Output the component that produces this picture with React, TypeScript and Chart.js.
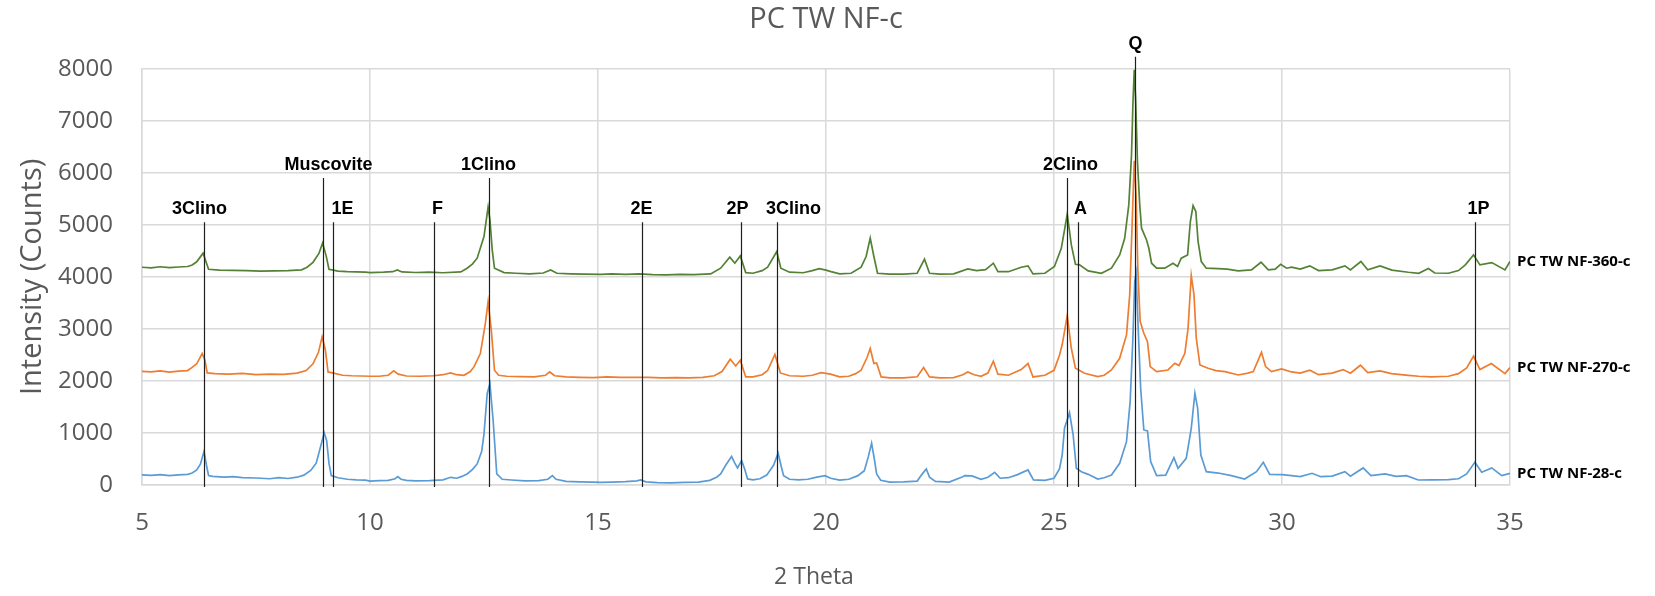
import { useEffect, useRef } from 'react';
import { Chart, registerables } from 'chart.js';

Chart.register(...registerables);

type Pt = [number, number];

const CHART_TITLE = 'PC TW NF-c';
const X_TITLE = '2 Theta';
const Y_TITLE = 'Intensity (Counts)';

const X_MIN = 5;
const X_MAX = 35;
const X_STEP = 5;
const Y_MIN = 0;
const Y_MAX = 8000;
const Y_STEP = 1000;

const SERIES_NAMES = ['PC TW NF-28-c', 'PC TW NF-270-c', 'PC TW NF-360-c'];
const SERIES_COLORS = ['#5B9BD5', '#ED7D31', '#548235'];

// 2-theta (deg) / counts
const SCAN_28: Pt[] = [
  [5.0, 193], [5.2, 185], [5.4, 200], [5.6, 180], [5.8, 195], [6.0, 205], [6.1, 230], [6.2, 290],
  [6.28, 400], [6.36, 643], [6.42, 350], [6.46, 180], [6.55, 165], [6.8, 150], [7.0, 160], [7.2, 140],
  [7.5, 135], [7.8, 120], [8.0, 140], [8.2, 125], [8.4, 150], [8.55, 190], [8.7, 280], [8.82, 420],
  [8.92, 750], [8.995, 1003], [9.05, 850], [9.1, 420], [9.15, 180], [9.3, 140], [9.5, 110], [9.7, 100],
  [9.9, 95], [10.0, 75], [10.2, 85], [10.4, 90], [10.55, 120], [10.61, 161], [10.68, 110], [10.8, 90],
  [11.0, 80], [11.3, 85], [11.6, 100], [11.77, 148], [11.9, 130], [12.0, 160], [12.13, 212], [12.25, 300],
  [12.35, 405], [12.45, 650], [12.5, 984], [12.57, 1755], [12.63, 1948], [12.7, 1241], [12.78, 212], [12.9, 110],
  [13.1, 96], [13.4, 80], [13.7, 85], [13.9, 110], [14.0, 180], [14.08, 110], [14.3, 70], [14.6, 60],
  [14.9, 55], [15.06, 51], [15.3, 55], [15.6, 65], [15.85, 80], [15.94, 96], [16.05, 60], [16.3, 45],
  [16.6, 40], [16.9, 50], [17.2, 55], [17.45, 90], [17.6, 150], [17.69, 212], [17.8, 380], [17.93, 547],
  [18.0, 420], [18.06, 328], [18.15, 469], [18.22, 300], [18.28, 116], [18.4, 100], [18.55, 120], [18.7, 190],
  [18.85, 380], [18.95, 611], [19.02, 350], [19.07, 180], [19.2, 110], [19.4, 100], [19.6, 110], [19.8, 150],
  [19.98, 180], [20.1, 130], [20.3, 95], [20.5, 110], [20.7, 180], [20.84, 276], [20.93, 550], [21.0, 804],
  [21.06, 500], [21.11, 212], [21.2, 90], [21.4, 55], [21.7, 60], [22.0, 75], [22.1, 200], [22.2, 309],
  [22.27, 150], [22.4, 70], [22.7, 55], [23.0, 160], [23.04, 180], [23.2, 175], [23.4, 110], [23.55, 150],
  [23.7, 244], [23.82, 130], [24.0, 140], [24.2, 200], [24.43, 289], [24.55, 100], [24.8, 90], [25.0, 130],
  [25.12, 309], [25.18, 577], [25.23, 1090], [25.34, 1391], [25.42, 962], [25.49, 321], [25.6, 256], [25.75, 205],
  [25.96, 115], [26.1, 140], [26.26, 192], [26.44, 417], [26.59, 833], [26.67, 1603], [26.73, 2820], [26.77, 3910],
  [26.8, 4070], [26.84, 3141], [26.9, 1859], [26.97, 1058], [27.05, 1038], [27.12, 449], [27.25, 179], [27.45, 190],
  [27.63, 526], [27.72, 321], [27.9, 513], [28.01, 1090], [28.09, 1763], [28.15, 1474], [28.22, 577], [28.34, 256],
  [28.6, 230], [28.89, 179], [29.18, 115], [29.44, 256], [29.59, 436], [29.73, 205], [30.0, 200], [30.21, 180],
  [30.4, 160], [30.66, 225], [30.85, 160], [31.1, 170], [31.38, 257], [31.5, 170], [31.78, 328], [31.95, 180],
  [32.26, 212], [32.5, 165], [32.73, 180], [32.99, 96], [33.3, 100], [33.65, 105], [33.87, 120], [34.05, 212],
  [34.23, 437], [34.38, 244], [34.6, 328], [34.82, 180], [35.0, 225],
];

const SCAN_270: Pt[] = [
  [5.0, 2186], [5.2, 2175], [5.4, 2195], [5.6, 2170], [5.8, 2190], [6.0, 2200], [6.1, 2260], [6.2, 2330],
  [6.32, 2527], [6.38, 2400], [6.43, 2154], [6.6, 2140], [6.9, 2130], [7.2, 2145], [7.5, 2120], [7.8, 2130],
  [8.1, 2125], [8.4, 2150], [8.6, 2200], [8.75, 2330], [8.87, 2550], [8.95, 2848], [9.02, 2600], [9.08, 2173],
  [9.2, 2150], [9.4, 2110], [9.6, 2100], [9.8, 2095], [10.0, 2090], [10.2, 2090], [10.4, 2110], [10.52, 2193],
  [10.62, 2130], [10.8, 2095], [11.1, 2090], [11.4, 2100], [11.6, 2120], [11.77, 2154], [11.9, 2120], [12.06, 2109],
  [12.2, 2180], [12.28, 2270], [12.42, 2527], [12.53, 3106], [12.59, 3524], [12.66, 2977], [12.73, 2205], [12.82, 2109],
  [13.0, 2090], [13.3, 2085], [13.6, 2080], [13.85, 2110], [13.94, 2173], [14.05, 2100], [14.3, 2080], [14.6, 2070],
  [14.9, 2064], [15.2, 2077], [15.5, 2070], [15.8, 2068], [16.1, 2070], [16.4, 2060], [16.7, 2065], [17.0, 2060],
  [17.3, 2070], [17.55, 2100], [17.72, 2180], [17.9, 2418], [18.02, 2289], [18.12, 2398], [18.24, 2077], [18.4, 2080],
  [18.6, 2120], [18.72, 2200], [18.88, 2508], [19.0, 2154], [19.2, 2100], [19.5, 2090], [19.7, 2110], [19.89, 2160],
  [20.1, 2130], [20.3, 2080], [20.5, 2090], [20.65, 2140], [20.77, 2205], [20.9, 2450], [20.97, 2623], [21.05, 2334],
  [21.11, 2347], [21.21, 2077], [21.4, 2060], [21.7, 2060], [22.0, 2080], [22.14, 2257], [22.27, 2077], [22.5, 2060],
  [22.8, 2065], [23.0, 2120], [23.11, 2173], [23.25, 2120], [23.4, 2090], [23.55, 2150], [23.67, 2379], [23.77, 2130],
  [24.0, 2110], [24.28, 2218], [24.43, 2334], [24.54, 2077], [24.8, 2110], [25.0, 2205], [25.12, 2495], [25.18, 2700],
  [25.23, 2950], [25.29, 3256], [25.38, 2628], [25.47, 2244], [25.67, 2147], [25.96, 2083], [26.1, 2110], [26.26, 2211],
  [26.44, 2436], [26.59, 2885], [26.66, 3654], [26.71, 4936], [26.76, 6231], [26.8, 5577], [26.84, 4102], [26.89, 3141],
  [26.97, 2917], [27.05, 2756], [27.11, 2276], [27.25, 2179], [27.5, 2211], [27.65, 2340], [27.74, 2295], [27.87, 2532],
  [27.94, 3013], [28.01, 4026], [28.07, 3654], [28.12, 2820], [28.2, 2308], [28.38, 2244], [28.55, 2200], [28.75, 2179],
  [29.04, 2115], [29.25, 2150], [29.37, 2179], [29.48, 2404], [29.55, 2551], [29.64, 2276], [29.77, 2179], [29.99, 2231],
  [30.21, 2173], [30.4, 2150], [30.61, 2205], [30.8, 2120], [31.1, 2150], [31.34, 2218], [31.5, 2150], [31.72, 2302],
  [31.88, 2160], [32.15, 2193], [32.4, 2140], [32.77, 2109], [33.0, 2090], [33.28, 2077], [33.65, 2090], [33.87, 2141],
  [34.05, 2250], [34.2, 2476], [34.34, 2218], [34.59, 2334], [34.89, 2141], [35.0, 2257],
];

const SCAN_360: Pt[] = [
  [5.0, 4186], [5.2, 4175], [5.4, 4195], [5.6, 4180], [5.8, 4190], [6.0, 4200], [6.1, 4230], [6.2, 4290],
  [6.34, 4456], [6.4, 4300], [6.46, 4147], [6.7, 4130], [7.0, 4125], [7.3, 4120], [7.6, 4110], [7.9, 4115],
  [8.2, 4120], [8.5, 4135], [8.62, 4186], [8.75, 4280], [8.88, 4450], [8.96, 4649], [9.04, 4400], [9.1, 4147],
  [9.3, 4110], [9.5, 4100], [9.7, 4095], [9.9, 4090], [10.0, 4083], [10.3, 4090], [10.5, 4100], [10.6, 4135],
  [10.7, 4095], [11.0, 4085], [11.3, 4090], [11.6, 4080], [11.99, 4095], [12.13, 4167], [12.25, 4250], [12.35, 4360],
  [12.5, 4777], [12.59, 5343], [12.63, 5100], [12.68, 4520], [12.73, 4167], [12.94, 4083], [13.2, 4070], [13.5, 4060],
  [13.8, 4075], [13.96, 4135], [14.1, 4070], [14.4, 4060], [14.7, 4055], [15.06, 4050], [15.3, 4057], [15.6, 4050],
  [15.9, 4060], [16.2, 4045], [16.5, 4040], [16.8, 4050], [17.1, 4045], [17.47, 4057], [17.69, 4167], [17.89, 4379],
  [18.0, 4263], [18.12, 4404], [18.24, 4083], [18.4, 4070], [18.6, 4120], [18.72, 4186], [18.92, 4488], [19.01, 4167],
  [19.2, 4090], [19.5, 4080], [19.7, 4120], [19.85, 4160], [20.0, 4130], [20.11, 4102], [20.3, 4060], [20.55, 4070],
  [20.77, 4186], [20.88, 4392], [20.97, 4745], [21.05, 4392], [21.13, 4070], [21.4, 4055], [21.7, 4055], [22.0, 4070],
  [22.16, 4340], [22.27, 4070], [22.5, 4055], [22.8, 4060], [23.11, 4154], [23.3, 4120], [23.5, 4140], [23.67, 4263],
  [23.77, 4102], [24.0, 4100], [24.28, 4186], [24.43, 4212], [24.54, 4057], [24.8, 4070], [25.01, 4199], [25.16, 4550],
  [25.23, 4900], [25.29, 5205], [25.38, 4615], [25.47, 4243], [25.56, 4231], [25.75, 4115], [26.04, 4070], [26.26, 4167],
  [26.44, 4423], [26.55, 4743], [26.64, 5384], [26.7, 6346], [26.73, 7307], [26.76, 7980], [26.79, 7436], [26.83, 6218],
  [26.88, 5384], [26.92, 4936], [27.03, 4711], [27.08, 4551], [27.14, 4263], [27.25, 4167], [27.43, 4167], [27.61, 4263],
  [27.71, 4199], [27.79, 4359], [27.93, 4423], [27.99, 5064], [28.05, 5372], [28.11, 5256], [28.16, 4679], [28.23, 4295],
  [28.34, 4167], [28.6, 4160], [28.8, 4150], [29.04, 4115], [29.33, 4135], [29.54, 4282], [29.7, 4135], [29.85, 4150],
  [29.97, 4243], [30.1, 4167], [30.21, 4186], [30.4, 4150], [30.61, 4212], [30.8, 4122], [31.1, 4135], [31.38, 4212],
  [31.5, 4135], [31.73, 4295], [31.88, 4135], [32.15, 4212], [32.41, 4130], [32.77, 4089], [33.0, 4070], [33.21, 4160],
  [33.35, 4075], [33.65, 4070], [33.87, 4122], [34.02, 4231], [34.2, 4424], [34.34, 4231], [34.6, 4276], [34.89, 4135],
  [35.0, 4295],
];

// Phase reference lines: label, 2-theta position, top of the line (counts)
const PHASE_LABELS = ['3Clino', 'Muscovite', '1E', 'F', '1Clino', '2E', '2P', '3Clino', '2Clino', 'A', 'Q', '1P'];
const PHASE_THETA = [6.36, 8.97, 9.18, 11.4, 12.61, 15.96, 18.13, 18.93, 25.29, 25.53, 26.77, 34.23];
const PHASE_TOP = [5050, 5900, 5050, 5050, 5900, 5050, 5050, 5050, 5900, 5050, 8230, 5050];

// horizontal nudge of each phase label relative to its line, in px
const LABEL_NUDGE = [-5, 5, 9, 3, -1, -1, -4, 16, 3, 2, 0, 3];

const AXIS_GREY = '#595959';
const GRID_GREY = '#D9D9D9';

const phaseLines = {
  id: 'phaseLines',
  afterDatasetsDraw(chart: any) {
    const { ctx, chartArea, scales } = chart;
    const xs = scales.x;
    const ys = scales.y;
    ctx.save();
    ctx.strokeStyle = '#1e1e1e';
    ctx.lineWidth = 1.2;
    ctx.fillStyle = '#000000';
    ctx.font = 'bold 18px "Liberation Sans", Arial, sans-serif';
    ctx.textAlign = 'center';
    ctx.textBaseline = 'alphabetic';
    PHASE_THETA.forEach((theta, i) => {
      const px = Math.round(xs.getPixelForValue(theta)) + 0.5;
      const top = ys.getPixelForValue(PHASE_TOP[i]);
      ctx.beginPath();
      ctx.moveTo(px, top);
      ctx.lineTo(px, chartArea.bottom + 2);
      ctx.stroke();
      ctx.fillText(PHASE_LABELS[i], px + LABEL_NUDGE[i], top - 8);
    });

    // series names beside the last point of each scan
    ctx.font = 'bold 15px "Open Sans", sans-serif';
    ctx.textAlign = 'left';
    ctx.textBaseline = 'middle';
    chart.data.datasets.forEach((ds: any, i: number) => {
      const meta = chart.getDatasetMeta(i);
      const last = meta.data[meta.data.length - 1];
      ctx.fillText(ds.label, chartArea.right + 7, last.y);
    });

    // x axis title, sitting slightly left of the plot centre
    ctx.font = '23px "Open Sans", sans-serif';
    ctx.fillStyle = AXIS_GREY;
    ctx.textAlign = 'center';
    ctx.textBaseline = 'middle';
    ctx.fillText(X_TITLE, (chartArea.left + chartArea.right) / 2 - 12, chartArea.bottom + 92);
    ctx.restore();
  },
};

export default function App() {
  const canvasRef = useRef<HTMLCanvasElement | null>(null);

  useEffect(() => {
    const canvas = canvasRef.current;
    if (!canvas) return;
    const scans = [SCAN_28, SCAN_270, SCAN_360];
    const chart = new Chart(canvas, {
      type: 'line',
      data: {
        datasets: scans.map((scan, i) => ({
          label: SERIES_NAMES[i],
          data: scan.map(([x, y]) => ({ x, y })),
          borderColor: SERIES_COLORS[i],
          backgroundColor: SERIES_COLORS[i],
          borderWidth: 1.7,
          pointRadius: 0,
          tension: 0,
          fill: false,
        })),
      },
      options: {
        responsive: false,
        animation: false,
        layout: { padding: { left: 0, right: 145, top: 0, bottom: 0 } },
        plugins: {
          legend: { display: false },
          tooltip: { enabled: false },
          title: {
            display: true,
            text: CHART_TITLE,
            fullSize: false,
            color: AXIS_GREY,
            font: { family: '"Open Sans", sans-serif', size: 29, weight: 'normal', lineHeight: 1.2 },
            padding: { top: 2, bottom: 32 },
          },
        },
        scales: {
          x: {
            type: 'linear',
            min: X_MIN,
            max: X_MAX,
            ticks: {
              stepSize: X_STEP,
              color: AXIS_GREY,
              font: { family: '"Open Sans", sans-serif', size: 24 },
              padding: 24,
              callback: (v: any) => String(v),
            },
            grid: { color: GRID_GREY, lineWidth: 1.5, drawTicks: false },
            border: { color: GRID_GREY, width: 1.5 },
            title: { display: false },
            afterFit: (scale: any) => {
              scale.height = 111;
            },
          },
          y: {
            type: 'linear',
            min: Y_MIN,
            max: Y_MAX,
            ticks: {
              stepSize: Y_STEP,
              color: AXIS_GREY,
              font: { family: '"Open Sans", sans-serif', size: 24 },
              padding: 29,
              callback: (v: any) => String(v),
            },
            grid: { color: GRID_GREY, lineWidth: 1.5, drawTicks: false },
            border: { color: GRID_GREY, width: 1.5 },
            title: {
              display: true,
              text: Y_TITLE,
              color: AXIS_GREY,
              font: { family: '"Open Sans", sans-serif', size: 29 },
              padding: { top: 15, bottom: 0 },
            },
            afterFit: (scale: any) => {
              scale.width = 142;
            },
          },
        },
      },
      plugins: [phaseLines],
    });
    return () => chart.destroy();
  }, []);

  return (
    <div style={{ position: 'fixed', left: 0, top: 0, width: 1655, height: 596, background: '#ffffff' }}>
      <canvas ref={canvasRef} width={1655} height={596} />
    </div>
  );
}
